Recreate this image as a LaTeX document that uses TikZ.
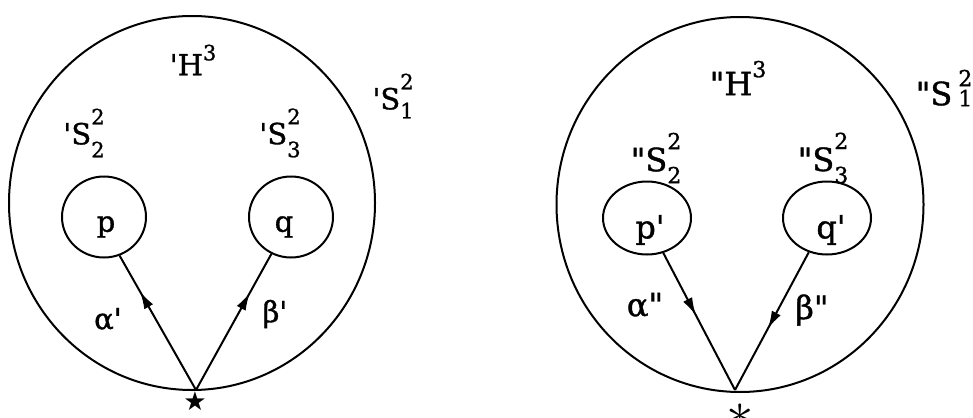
\documentclass[tikz,border=0pt]{standalone}
\usepackage{fontspec}
\newfontfamily\labfont{DejaVu Serif}[FakeBold=1.2]
\newfontfamily\symfont{DejaVu Sans}
\usetikzlibrary{shapes.geometric,decorations.markings,arrows.meta}
% sup/sub pair: #1 sup, #2 sub, #3 raise, #4 lower, #5 digit size
\newcommand\supsub[5]{\makebox[0pt][l]{\raisebox{#3}{\fontsize{#5}{#5}\selectfont #1}}\raisebox{-#4}{\fontsize{#5}{#5}\selectfont #2}}
\newcommand\supone[3]{\raisebox{#2}{\fontsize{#3}{#3}\selectfont #1}}
\begin{document}
\begin{tikzpicture}[x=1pt,y=-1pt, line width=2pt,
  big/.style={draw, ellipse, minimum width=366pt, minimum height=374pt, inner sep=0pt},
  small/.style={draw, ellipse, inner sep=0pt},
  labl/.style={font=\labfont\fontsize{29}{31}\selectfont, inner sep=0pt},
  labr/.style={font=\labfont\fontsize{32}{34}\selectfont, inner sep=0pt},
  midarrow/.style={postaction={decorate}, decoration={markings, mark=at position #1 with {\arrow[line width=1pt]{Latex[length=17pt,width=10pt]}}}}]
\useasboundingbox (0,0) rectangle (973,417);
% left figure
\node[big] (L) at (192,203) {};
\node[small, minimum width=84pt, minimum height=81pt] (p) at (104,217) {};
\node[small, minimum width=84pt, minimum height=81pt] (q) at (291,217) {};
\coordinate (La) at (196,390);
\node[labl] (Lh) at (193,60) {'H\supone{3}{15pt}{21}};
\node[labl] (Ls1) at (393,96) {'S\supsub{2}{1}{20pt}{9pt}{21}};
\node[labl] (Ls2) at (84,133) {'S\supsub{2}{2}{20pt}{13pt}{21}};
\node[labl] (Ls3) at (280,133) {'S\supsub{2}{3}{20pt}{13pt}{21}};
\node[labl] (pl) at (106,227) {p};
\node[labl] (ql) at (284,227) {q};
\node[labl] (al1) at (108,319) {α'};
\node[labl] (be1) at (275,314) {β'};
\node[inner sep=0pt, font=\symfont\fontsize{26}{26}\selectfont] (st1) at (195,401) {★};
\draw[midarrow=0.73] (La) -- (p.-68);
\draw[midarrow=0.71] (La) -- (q.-118);
% right figure
\node[big, minimum width=367pt, minimum height=375pt] (R) at (740,204.5) {};
\node[small, minimum width=88pt, minimum height=73pt] (pp) at (647,218) {};
\node[small, minimum width=88pt, minimum height=73pt] (qq) at (827,218) {};
\coordinate (Ra) at (735,390);
\node[labr] (Rh) at (738,78) {"H\supone{3}{18pt}{22}};
\node[labr] (Rs1) at (944,88) {"S\hspace{6pt}\supsub{2}{1}{19pt}{1pt}{22}};
\node[labr] (Rs2) at (656,158) {"S\supsub{2}{2}{22pt}{12pt}{22}};
\node[labr] (Rs3) at (823,158) {"S\supsub{2}{3}{22pt}{12pt}{22}};
\node[labr] (ppl) at (650,230) {p'};
\node[labr] (qql) at (831,230) {q'};
\node[labr] (al2) at (645,305) {α"};
\node[labr] (be2) at (812,310) {β"};
\node[inner sep=0pt] (st2) at (740,417) {\scalebox{5.5}{$\ast$}};
\draw[midarrow=0.45] (pp.-65) -- (Ra);
\draw[midarrow=0.55] (qq.-118) -- (Ra);
\end{tikzpicture}
\end{document}
